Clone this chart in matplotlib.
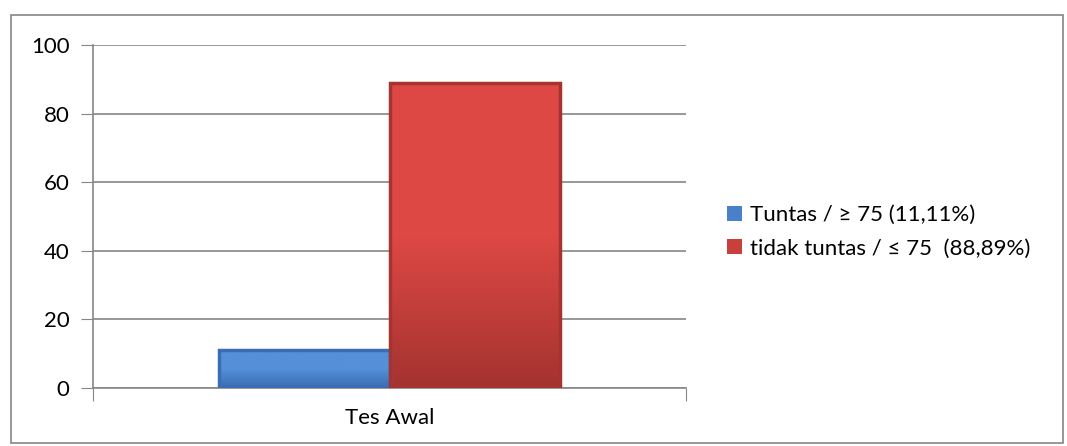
import numpy as np
import matplotlib.pyplot as plt
from matplotlib.patches import Rectangle
from matplotlib.colors import LinearSegmentedColormap

plt.rcParams['font.family'] = ['Lato', 'DejaVu Sans']

# Data
category = ["Tes Awal"]
series_labels = ["Tuntas / \u2265 75 (11,11%)", "tidak tuntas / \u2264 75  (88,89%)"]
series_values = [11.11, 88.89]
y_ticks = [0, 20, 40, 60, 80, 100]

# colours: (top, bottom) of each bar gradient
bar_colors = [("#5590d8", "#3a6db3"), ("#dd4844", "#a53330")]
solid_colors = ["#4a7fc9", "#c8403c"]

fig = plt.figure(figsize=(10.67, 4.46), dpi=100)
fig.patches.append(Rectangle((11 / 1067, 3 / 446), 1052 / 1067, 428 / 446,
                             transform=fig.transFigure, fill=False,
                             edgecolor="#868686", linewidth=1.2))

ax = fig.add_axes([93 / 1067, 58 / 446, 593 / 1067, 343 / 446])

width = 0.287
x = np.arange(len(category))
offsets = [-width / 2, width / 2]
for val, off, (c_top, c_bot), lab, sc in zip(series_values, offsets, bar_colors,
                                             series_labels, solid_colors):
    bars = ax.bar(x + off, [val], width, color=sc, label=lab, zorder=3,
                  edgecolor="none")
    for b in bars:
        # vertical gradient clipped to the bar
        cmap = LinearSegmentedColormap.from_list("g", [c_bot, c_top, c_top])
        grad = np.linspace(0, 1, 100).reshape(-1, 1)
        im = ax.imshow(grad, cmap=cmap, aspect="auto", origin="lower",
                       extent=[b.get_x(), b.get_x() + b.get_width(), 0, b.get_height()],
                       zorder=4)
        im.set_clip_path(b)
        # darker edges for bevel look
        ax.add_patch(Rectangle((b.get_x(), 0), b.get_width(), b.get_height(),
                               fill=False, edgecolor=c_bot, linewidth=2.5, zorder=5))

ax.set_xlim(-0.5, 0.5)
ax.set_ylim(0, 100)
ax.set_yticks(y_ticks)
ax.set_xticks([-0.5, 0.5])
ax.set_xticklabels(["", ""])
ax.text(0, -0.087, category[0], transform=ax.get_xaxis_transform(),
        ha="center", va="center", fontsize=16)
ax.tick_params(axis="y", length=9, color="#868686", labelsize=16, pad=8)
ax.tick_params(axis="x", length=9, color="#868686")
ax.grid(axis="y", color="#868686", linewidth=1.2, zorder=0)
for side in ["top", "right"]:
    ax.spines[side].set_visible(False)
for side in ["left", "bottom"]:
    ax.spines[side].set_color("#868686")
    ax.spines[side].set_linewidth(1.2)

ax.legend(loc="center left", bbox_to_anchor=(1.036, 0.455), frameon=False,
          fontsize=16, handlelength=0.65, handleheight=0.65, handletextpad=0.35,
          labelspacing=0.6)

fig.savefig("out.png", dpi=100)
